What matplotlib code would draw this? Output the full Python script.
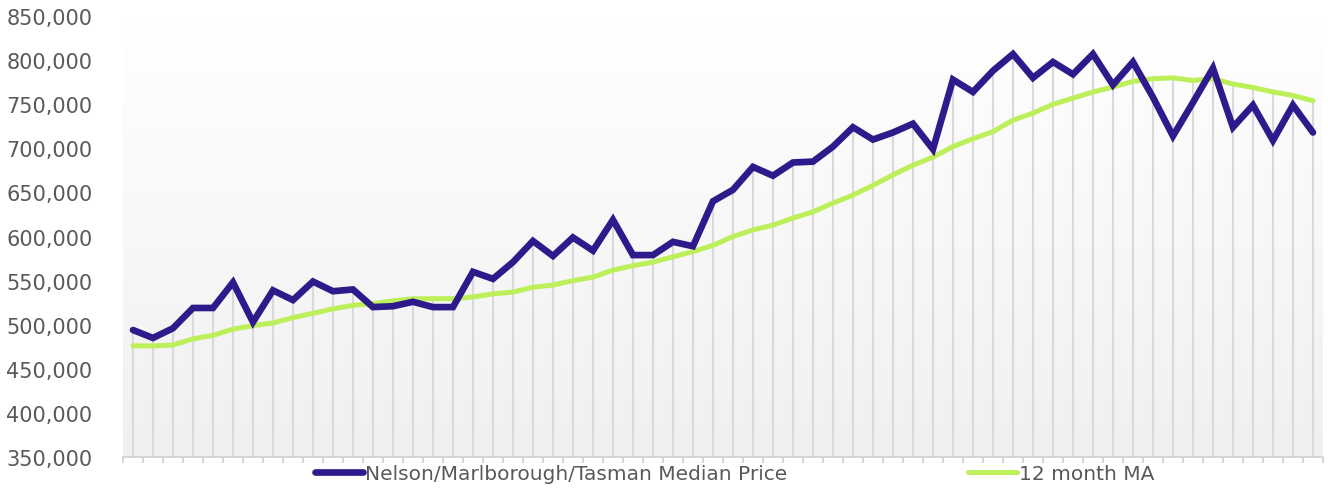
import numpy as np
import matplotlib.pyplot as plt
from matplotlib.colors import LinearSegmentedColormap

# Monthly median price, Nelson/Marlborough/Tasman (60 months)
median_price = [494000, 485000, 496000, 519000, 519000, 548000, 503000, 539000, 528000, 549000,
                538000, 540000, 520000, 521000, 526000, 520000, 520000, 560000, 552000, 571000,
                595000, 578000, 599000, 584000, 619000, 579000, 579000, 594000, 589000, 640000,
                653000, 679000, 669000, 684000, 685000, 702000, 724000, 710000, 718000, 728000,
                699000, 778000, 764000, 788000, 807000, 780000, 798000, 784000, 807000, 772000,
                798000, 758000, 714000, 752000, 791000, 724000, 749000, 709000, 749000, 718000]

# 12 month moving average
moving_avg = [476000, 476000, 477000, 484000, 488000, 495000, 499000, 502000, 508000, 513000,
              518000, 522000, 524000, 527000, 529500, 529500, 529500, 531500, 535000, 537000,
              542500, 545000, 550000, 554000, 562000, 567000, 571000, 577000, 583000, 590000,
              600000, 607500, 613000, 621000, 628000, 638000, 647000, 658000, 670000, 681000,
              690000, 702000, 711000, 719000, 732000, 740000, 750000, 757000, 764000, 769500,
              776000, 779000, 780000, 777000, 779000, 773000, 769000, 764000, 760000, 754000]

labels = ['Nelson/Marlborough/Tasman Median Price', '12 month MA']

purple = '#2e1a8a'
lime = '#bcef5a'
grey_text = '#595959'

plt.rcParams['font.family'] = ['DejaVu Sans']

fig = plt.figure(figsize=(13.28, 4.89), dpi=100)
ax = fig.add_axes([0.0926, 0.0634, 0.9036, 0.9016])

x = np.arange(len(median_price))

# Background gradient: white at the top fading to light grey at the bottom
cmap = LinearSegmentedColormap.from_list('bg', ['#ffffff', '#f0f0f0'])
grad = np.linspace(1, 0, 256).reshape(-1, 1)
ax.imshow(grad, cmap=cmap, aspect='auto', extent=(-0.5, len(x) - 0.5, 350000, 850000),
          zorder=0, origin='lower')

# drop lines from the highest series down to the axis
tops = np.maximum(median_price, moving_avg)
ax.vlines(x, 350000, tops, colors='#d9d9d9', linewidth=1.5, zorder=1)

ax.plot(x, median_price, color=purple, linewidth=4.8, solid_joinstyle='miter',
        solid_capstyle='round', label=labels[0], zorder=3)
ax.plot(x, moving_avg, color=lime, linewidth=3.6, solid_capstyle='round',
        label=labels[1], zorder=2)

ax.set_xlim(-0.5, len(x) - 0.5)
ax.set_ylim(350000, 850000)
ax.set_yticks(np.arange(350000, 850001, 50000))
ax.yaxis.set_major_formatter(plt.FuncFormatter(lambda v, p: f'{int(v):,}'))
ax.set_xticks(np.arange(-0.5, len(x) + 0.5, 1))
ax.set_xticklabels([])

for side in ['top', 'right', 'left']:
    ax.spines[side].set_visible(False)
ax.spines['bottom'].set_color('#d0d0d0')
ax.spines['bottom'].set_linewidth(1.2)
ax.tick_params(axis='x', length=4, color='#d0d0d0', width=1.2)
ax.tick_params(axis='y', length=0, pad=22, labelsize=15, labelcolor=grey_text)

fig.legend(loc='center', bbox_to_anchor=(0.553, 0.03), ncol=2, frameon=False,
           fontsize=14.5, labelcolor=grey_text, handlelength=2.4, handletextpad=0.1,
           columnspacing=9.0)

fig.savefig('out.png', dpi=100)
